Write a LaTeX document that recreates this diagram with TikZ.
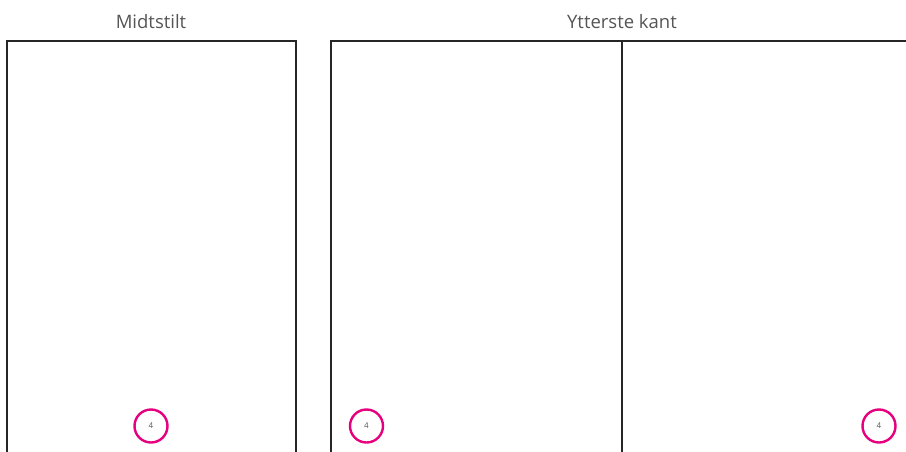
\documentclass[tikz,border=0pt]{standalone}
\usepackage{fontspec}
\setmainfont{Open Sans}
\definecolor{sidemagenta}{HTML}{E6007E}
\definecolor{etikettgraa}{HTML}{555555}
\tikzset{
    side/.style={draw=black!85,line width=2.8pt},
    sidetall/.style={circle,draw=sidemagenta,line width=2.4pt,minimum size=33pt,inner sep=0pt,
        text=etikettgraa,font=\fontsize{8}{9}\selectfont},
    tittel/.style={text=etikettgraa,font=\fontsize{18.5}{21}\selectfont}
}
\begin{document}
\begin{tikzpicture}[x=1pt,y=-1pt]
    \useasboundingbox (0,0) rectangle (906,451);
    % titler
    \node[tittel] (midt) at (151,22) {Midtstilt};
    \node[tittel] (ytter) at (622,22) {Ytterste kant};
    % sider
    \draw[side] (7,460) -- (7,41) -- (296,41) -- (296,460);
    \draw[side] (331,460) -- (331,41) -- (915,41);
    \draw[side] (622,41) -- (622,460);
    % sidetall
    \node[sidetall] (tall1) at (151,426) {4};
    \node[sidetall] (tall2) at (366.5,426) {4};
    \node[sidetall] (tall3) at (879,426) {4};
\end{tikzpicture}
\end{document}
